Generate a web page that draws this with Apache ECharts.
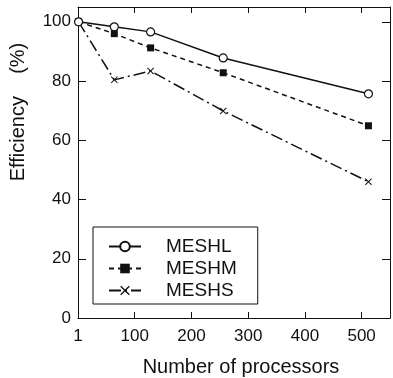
<!DOCTYPE html>
<html>
<head>
<meta charset="utf-8">
<script src="https://cdn.jsdelivr.net/npm/echarts@6/dist/echarts.min.js"></script>
<style>
html,body{margin:0;padding:0;background:#fff;}
#main{width:393px;height:378px;}
</style>
</head>
<body>
<div id="main"></div>
<script>
var processors = [1, 64, 128, 256, 512];
var meshL = [100, 98.3, 96.6, 87.8, 75.7];
var meshM = [100, 96.0, 91.2, 82.8, 64.9];
var meshS = [100, 80.4, 83.4, 69.9, 46.0];
var seriesNames = ['MESHL', 'MESHM', 'MESHS'];
var xTitle = 'Number of processors';
var yTitle = 'Efficiency    (%)';

function pairs(ys){ return processors.map(function(x,i){ return [x, ys[i]]; }); }

var C = '#111';
var font = 'Liberation Sans, Arial, Helvetica, sans-serif';
var xMark = 'path://M0,1L1,0L5,4L9,0L10,1L6,5L10,9L9,10L5,6L1,10L0,9L4,5Z';

var chart = echarts.init(document.getElementById('main'));
var baseX = {
  type: 'value', min: 0, max: 550, interval: 100,
  axisLine: {show: true, onZero: false, lineStyle: {color: C, width: 1}},
  axisTick: {show: true, inside: true, length: 6, lineStyle: {color: C}},
  splitLine: {show: false}
};
var baseY = {
  type: 'value', min: 0, max: 105, interval: 20,
  axisLine: {show: true, onZero: false, lineStyle: {color: C, width: 1}},
  axisTick: {show: true, inside: true, length: 8, lineStyle: {color: C}},
  splitLine: {show: false}
};
chart.setOption({
  animation: false,
  backgroundColor: '#fff',
  grid: {left: 78, right: 2, top: 7, bottom: 60, containLabel: false},
  xAxis: [
    Object.assign({}, baseX, {position: 'bottom',
      axisLabel: {show: true, color: C, fontSize: 17, fontFamily: font, margin: 10,
        formatter: function(v){ return v === 0 ? '1' : (v % 100 === 0 ? String(v) : ''); }}}),
    Object.assign({}, baseX, {position: 'top', axisLabel: {show: false}})
  ],
  yAxis: [
    Object.assign({}, baseY, {position: 'left',
      axisLabel: {show: true, color: C, fontSize: 17, fontFamily: font, margin: 7,
        formatter: function(v){ return v % 20 === 0 ? String(v) : ''; }}}),
    Object.assign({}, baseY, {position: 'right', axisLabel: {show: false}})
  ],
  legend: {
    orient: 'vertical', left: 93, top: 227,
    padding: [10, 21, 4, 15],
    itemGap: 3, itemWidth: 32, itemHeight: 12,
    borderColor: C, borderWidth: 1, backgroundColor: '#fff',
    textStyle: {color: C, fontSize: 19, fontFamily: font, lineHeight: 19, padding: [0, 0, 0, 20]},
    data: seriesNames
  },
  graphic: [
    {type: 'text', x: 18, y: 112, rotation: Math.PI/2,
      style: {text: yTitle, fill: C, font: '20px ' + font, textAlign: 'center', textVerticalAlign: 'middle'}},
    {type: 'text', x: 241, y: 367,
      style: {text: xTitle, fill: C, font: '20px ' + font, textAlign: 'center', textVerticalAlign: 'middle'}}
  ],
  series: [
    {name: seriesNames[0], type: 'line', data: pairs(meshL), symbol: 'circle', symbolSize: 8,
      lineStyle: {color: C, width: 1.5, type: 'solid'},
      itemStyle: {color: '#fff', borderColor: C, borderWidth: 1.2}, z: 3},
    {name: seriesNames[1], type: 'line', data: pairs(meshM), symbol: 'rect', symbolSize: 7,
      lineStyle: {color: C, width: 1.5, type: [5, 4]},
      itemStyle: {color: C, borderColor: C, borderWidth: 0}, z: 2},
    {name: seriesNames[2], type: 'line', data: pairs(meshS), symbol: xMark, symbolSize: 7,
      lineStyle: {color: C, width: 1.5, type: [12, 4, 2, 4]},
      itemStyle: {color: C, borderWidth: 0}, z: 1}
  ]
});
</script>
</body>
</html>
